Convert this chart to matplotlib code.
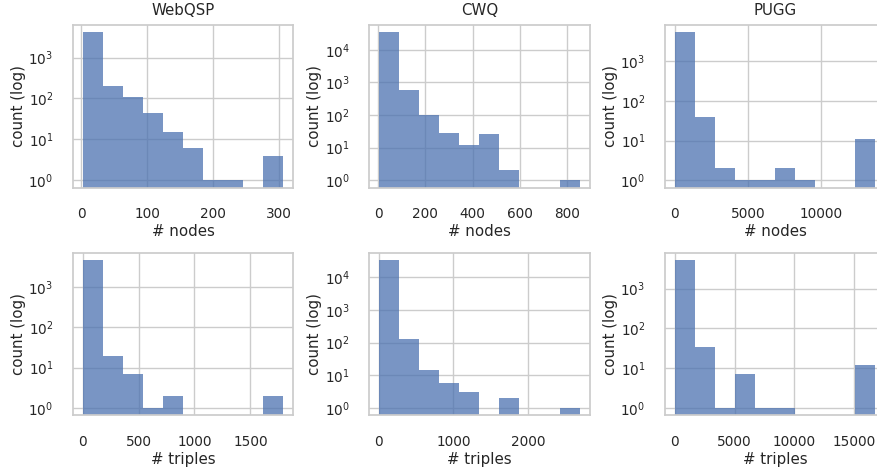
import numpy as np
import matplotlib

matplotlib.use('Agg')
import matplotlib.pyplot as plt
import seaborn as sns

# Histogram bins: (min, max) of each x range and 10 bin counts
datasets = ["WebQSP", "CWQ", "PUGG"]

webqsp_nodes_range = (2, 307)
webqsp_nodes_counts = [4120, 205, 110, 45, 15, 6, 1, 1, 0, 4]
cwq_nodes_range = (4, 852)
cwq_nodes_counts = [34400, 590, 100, 28, 12, 27, 2, 0, 0, 1]
pugg_nodes_range = (5, 13680)
pugg_nodes_counts = [5250, 38, 2, 1, 1, 2, 1, 0, 0, 11]

webqsp_triples_range = (1, 1794)
webqsp_triples_counts = [4650, 19, 7, 1, 2, 0, 0, 0, 0, 2]
cwq_triples_range = (4, 2692)
cwq_triples_counts = [34400, 133, 15, 6, 3, 0, 2, 0, 0, 1]
pugg_triples_range = (5, 16740)
pugg_triples_counts = [5250, 35, 1, 7, 1, 1, 0, 0, 0, 12]

# x tick positions shown in each panel
nodes_ticks = [[0, 100, 200, 300], [0, 200, 400, 600, 800], [0, 5000, 10000]]
triples_ticks = [[0, 500, 1000, 1500], [0, 1000, 2000], [0, 5000, 10000, 15000]]

rows = [
    ("# nodes", nodes_ticks,
     [(webqsp_nodes_range, webqsp_nodes_counts),
      (cwq_nodes_range, cwq_nodes_counts),
      (pugg_nodes_range, pugg_nodes_counts)]),
    ("# triples", triples_ticks,
     [(webqsp_triples_range, webqsp_triples_counts),
      (cwq_triples_range, cwq_triples_counts),
      (pugg_triples_range, pugg_triples_counts)]),
]

sns.set_theme(style="whitegrid")
plt.rcParams['font.family'] = ['DejaVu Sans']
plt.rcParams['xtick.labelsize'] = 9.8
plt.rcParams['ytick.labelsize'] = 9.8
plt.rcParams['axes.labelsize'] = 10.8
plt.rcParams['axes.titlesize'] = 10.8
plt.rcParams['xtick.major.pad'] = 8
plt.rcParams['ytick.major.pad'] = 8

fig = plt.figure(figsize=(8.78, 4.69), dpi=100)

# axes placement in figure fractions (the right column runs slightly off the canvas)
lefts = [0.0828, 0.4203, 0.7570]
bottoms = [0.5998, 0.1145]
width = 0.2513
height = 0.3469

for r, (xlabel, ticks, panels) in enumerate(rows):
    for c, ((lo, hi), counts) in enumerate(panels):
        ax = fig.add_axes([lefts[c], bottoms[r], width, height])
        edges = np.linspace(lo, hi, len(counts) + 1)
        centers = (edges[:-1] + edges[1:]) / 2
        ax.hist(centers, bins=edges, weights=counts, log=True,
                color="#4C72B0", alpha=0.75, linewidth=0)
        ax.set_xticks(ticks[c])
        ax.set_xlabel(xlabel, labelpad=2)
        ax.set_ylabel("count (log)", labelpad=2)
        if r == 0:
            ax.set_title(datasets[c], pad=7)

fig.savefig("out.png", dpi=100)
